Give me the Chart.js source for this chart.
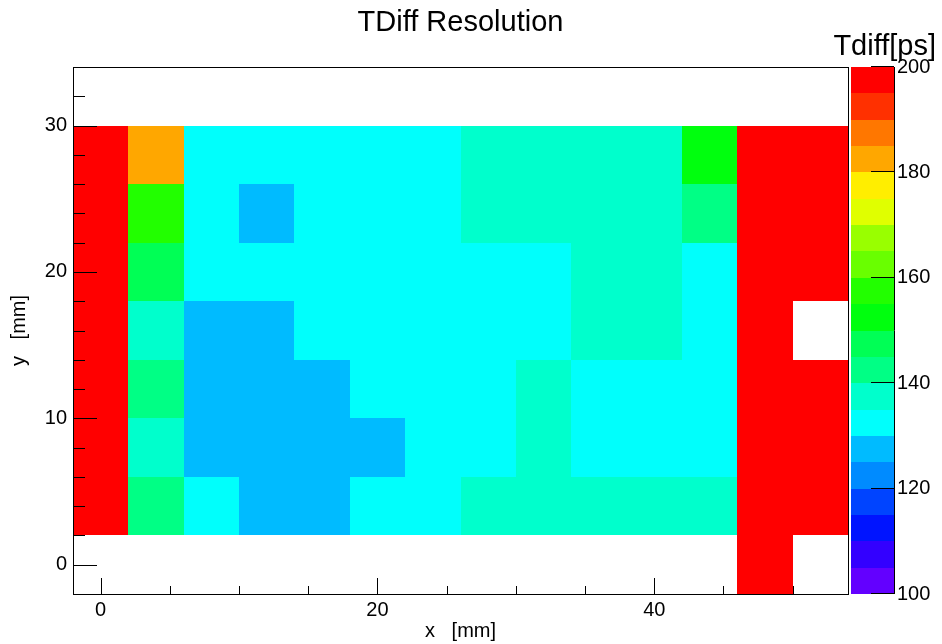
<!DOCTYPE html>
<html>
<head>
<meta charset="utf-8">
<script src="https://cdn.jsdelivr.net/npm/chart.js@4.4.1/dist/chart.umd.min.js"></script>
<style>
html, body { margin: 0; padding: 0; background: #ffffff; }
#wrap { width: 942px; height: 644px; }
</style>
</head>
<body>
<div id="wrap"><canvas id="c" width="942" height="644"></canvas></div>
<script>
// ---- data (bin centres in mm, values in ps; null = empty bin) ----
const xCenters = [0, 4, 8, 12, 16, 20, 24, 28, 32, 36, 40, 44, 48, 52];
const yCenters = [0, 4, 8, 12, 16, 20, 24, 28];
const row0  = [null, null, null, null, null, null, null, null, null, null, null, null, 200, null];
const row4  = [200, 143, 132, 127, 127, 132, 132, 138, 138, 138, 138, 138, 200, 200];
const row8  = [200, 137, 127, 127, 127, 127, 132, 132, 138, 132, 132, 132, 200, 200];
const row12 = [200, 143, 127, 127, 127, 132, 132, 132, 138, 132, 132, 132, 200, 200];
const row16 = [200, 137, 127, 127, 132, 132, 132, 132, 132, 138, 138, 132, 200, null];
const row20 = [200, 147, 132, 132, 132, 132, 132, 132, 132, 138, 138, 132, 200, 200];
const row24 = [200, 157, 132, 127, 132, 132, 132, 138, 138, 138, 138, 143, 200, 200];
const row28 = [200, 182, 132, 132, 132, 132, 132, 138, 138, 138, 138, 152, 200, 200];
const rows = [row0, row4, row8, row12, row16, row20, row24, row28];

const xTickLabels = [0, 20, 40];
const yTickLabels = [0, 10, 20, 30];
const zTickLabels = [100, 120, 140, 160, 180, 200];
const xRange = [-2, 54];
const yRange = [-2, 34];
const zRange = [100, 200];

// ---- style ----
const FONT = "'Liberation Sans', Arial, Helvetica, sans-serif";
const paletteColors = [
  '#6300ff', '#3300ff', '#0014ff', '#0044ff', '#008bff',
  '#00bbff', '#00fffc', '#00ffcc', '#00ff85', '#00ff55',
  '#00ff0e', '#22ff00', '#69ff00', '#99ff00', '#e0ff00',
  '#ffee00', '#ffa700', '#ff7700', '#ff3000', '#ff0000'
];

const points = [];
rows.forEach((r, j) => r.forEach((v, i) => {
  if (v !== null) points.push({ x: xCenters[i], y: yCenters[j], v: v });
}));

const heatPlugin = {
  id: 'heat',
  beforeDatasetsDraw(chart) {
    const { ctx, scales: { x, y, z } } = chart;
    const hx = (xCenters[1] - xCenters[0]) / 2;
    const hy = (yCenters[1] - yCenters[0]) / 2;
    const n = paletteColors.length;
    const step = (z.max - z.min) / n;
    const colorOf = v => paletteColors[Math.max(0, Math.min(n - 1, Math.floor((v - z.min) / step)))];
    ctx.save();
    chart.data.datasets[0].data.forEach(p => {
      const x0 = Math.round(x.getPixelForValue(p.x - hx));
      const x1 = Math.round(x.getPixelForValue(p.x + hx));
      const y0 = Math.round(y.getPixelForValue(p.y + hy));
      const y1 = Math.round(y.getPixelForValue(p.y - hy));
      ctx.fillStyle = colorOf(p.v);
      ctx.fillRect(x0, y0, x1 - x0, y1 - y0);
    });
    // colour bar
    const bl = z.left + 3, br = z.left + 46;
    paletteColors.forEach((c, k) => {
      const t = Math.round(z.getPixelForValue(z.min + (k + 1) * step));
      const b = Math.round(z.getPixelForValue(z.min + k * step));
      ctx.fillStyle = c;
      ctx.fillRect(bl, t, br - bl, b - t);
    });
    ctx.restore();
  },
  afterDatasetsDraw(chart) {
    const { ctx, chartArea: a, scales: { x, y, z } } = chart;
    ctx.save();
    ctx.strokeStyle = '#000';
    ctx.lineWidth = 1;
    ctx.beginPath();
    // x ticks (inside)
    for (let v = Math.ceil(x.min / 5) * 5; v <= x.max; v += 5) {
      const px = Math.round(x.getPixelForValue(v)) + 0.5;
      const len = xTickLabels.includes(v) ? 16 : 8;
      ctx.moveTo(px, a.bottom);
      ctx.lineTo(px, a.bottom - len);
    }
    // y ticks (inside)
    for (let v = Math.ceil(y.min / 2) * 2; v < y.max; v += 2) {
      const py = Math.round(y.getPixelForValue(v)) + 0.5;
      const len = yTickLabels.includes(v) ? 24 : 12;
      ctx.moveTo(a.left, py);
      ctx.lineTo(a.left + len, py);
    }
    // colour bar ticks and edge
    const br = z.left + 46;
    zTickLabels.forEach(v => {
      const py = Math.round(z.getPixelForValue(v)) - 0.5;
      ctx.moveTo(br, py);
      ctx.lineTo(br - 23, py);
    });
    ctx.moveTo(br + 0.5, z.top);
    ctx.lineTo(br + 0.5, z.bottom);
    ctx.stroke();
    // frame
    ctx.strokeRect(a.left + 0.5, a.top + 0.5, a.right - a.left, a.bottom - a.top);
    // z title
    ctx.fillStyle = '#000';
    ctx.font = '29px ' + FONT;
    ctx.textAlign = 'right';
    ctx.textBaseline = 'alphabetic';
    ctx.fillText('Tdiff[ps]', 936, 55);
    ctx.restore();
  }
};

const tickFont = { family: FONT, size: 20, weight: 'normal', lineHeight: 1.2 };
const noPad = s => { s.paddingTop = 0; s.paddingBottom = 0; s.paddingLeft = 0; s.paddingRight = 0; };

new Chart(document.getElementById('c').getContext('2d'), {
  type: 'scatter',
  data: { datasets: [{ data: points, pointRadius: 0, pointHoverRadius: 0, pointBorderWidth: 0 }] },
  options: {
    responsive: false,
    animation: false,
    events: [],
    layout: { padding: 0, autoPadding: false },
    plugins: {
      legend: { display: false },
      tooltip: { enabled: false },
      title: { display: false }
    },
    scales: {
      top: {
        axis: 'x', type: 'linear', position: 'top', min: xRange[0], max: xRange[1],
        afterBuildTicks: s => { s.ticks = []; },
        afterFit: s => { s.height = 67; noPad(s); },
        grid: { display: false, drawTicks: false },
        border: { display: false },
        ticks: { display: false },
        title: {
          display: true, text: 'TDiff Resolution', color: '#000',
          font: { family: FONT, size: 29, weight: 'normal', lineHeight: 1.2 },
          padding: { top: 5.6, bottom: 0 }
        }
      },
      x: {
        type: 'linear', position: 'bottom', min: xRange[0], max: xRange[1],
        afterBuildTicks: s => { s.ticks = xTickLabels.map(v => ({ value: v })); },
        afterFit: s => { s.height = 50; noPad(s); },
        grid: { display: false, drawTicks: false },
        border: { display: false },
        ticks: { color: '#000', font: tickFont, padding: 4, maxRotation: 0, autoSkip: false },
        title: { display: true, text: 'x   [mm]', color: '#000', font: tickFont, padding: { top: 0, bottom: 1 } }
      },
      y: {
        type: 'linear', position: 'left', min: yRange[0], max: yRange[1],
        afterBuildTicks: s => { s.ticks = yTickLabels.map(v => ({ value: v })); },
        afterFit: s => { s.width = 73; noPad(s); },
        grid: { display: false, drawTicks: false },
        border: { display: false },
        ticks: { color: '#000', font: tickFont, padding: 6, autoSkip: false },
        title: { display: true, text: 'y   [mm]', color: '#000', font: tickFont, padding: { top: 7, bottom: 0 } }
      },
      z: {
        axis: 'y', type: 'linear', position: 'right', min: zRange[0], max: zRange[1],
        afterBuildTicks: s => { s.ticks = zTickLabels.map(v => ({ value: v })); },
        afterFit: s => { s.width = 94; noPad(s); },
        grid: { display: false, drawTicks: false },
        border: { display: false },
        ticks: { color: '#000', font: tickFont, padding: 49, autoSkip: false }
      }
    }
  },
  plugins: [heatPlugin]
});
</script>
</body>
</html>
